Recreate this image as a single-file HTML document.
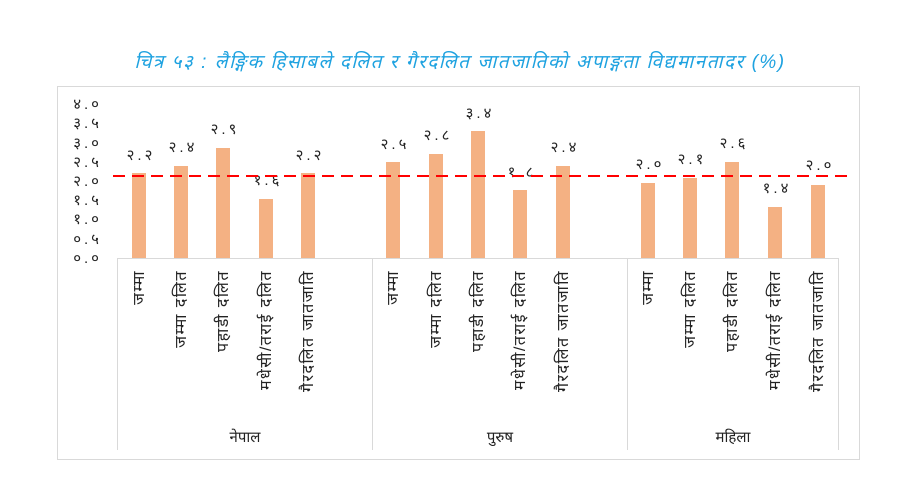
<!DOCTYPE html>
<html><head><meta charset="utf-8"><style>
body{margin:0;background:#fff;width:910px;height:488px;overflow:hidden;font-family:"Liberation Sans","DejaVu Sans",sans-serif}
</style></head><body>
<svg width="910" height="488" xmlns="http://www.w3.org/2000/svg" font-family="'Liberation Sans','DejaVu Sans',sans-serif">
<text x="460" y="68" text-anchor="middle" font-size="19" font-style="italic" letter-spacing="1.5" fill="#1ea2e0">चित्र ५३ : लैङ्गिक हिसाबले दलित र गैरदलित जातजातिको अपाङ्गता विद्यमानतादर (%)</text>
<rect x="57.5" y="86.5" width="802" height="373" fill="#fff" stroke="#d9d9d9"/>
<g font-size="15" fill="#222" text-anchor="end" letter-spacing="3">
<text x="102" y="109">४.०</text><text x="102" y="128">३.५</text><text x="102" y="148">३.०</text>
<text x="102" y="167">२.५</text><text x="102" y="186">२.०</text><text x="102" y="205">१.५</text>
<text x="102" y="224">१.०</text><text x="102" y="244">०.५</text><text x="102" y="263">०.०</text>
</g>
<g fill="#f4b183">
<rect x="132" y="173" width="14" height="85"/><rect x="174" y="166" width="14" height="92"/><rect x="216" y="148" width="14" height="110"/><rect x="259" y="199" width="14" height="59"/><rect x="301" y="173" width="14" height="85"/>
<rect x="386" y="162" width="14" height="96"/><rect x="429" y="154" width="14" height="104"/><rect x="471" y="131" width="14" height="127"/><rect x="513" y="190" width="14" height="68"/><rect x="556" y="166" width="14" height="92"/>
<rect x="641" y="183" width="14" height="75"/><rect x="683" y="178" width="14" height="80"/><rect x="725" y="162" width="14" height="96"/><rect x="768" y="207" width="14" height="51"/><rect x="811" y="185" width="14" height="73"/>
</g>
<g font-size="15" fill="#222" text-anchor="middle" letter-spacing="3">
<text x="141" y="160">२.२</text><text x="183" y="152">२.४</text><text x="225" y="134">२.९</text><text x="268" y="185">१.६</text><text x="310" y="160">२.२</text>
<text x="395" y="149">२.५</text><text x="438" y="140">२.८</text><text x="480" y="118">३.४</text><text x="522" y="177">१.८</text><text x="565" y="152">२.४</text>
<text x="650" y="169">२.०</text><text x="692" y="164">२.१</text><text x="734" y="148">२.६</text><text x="777" y="193">१.४</text><text x="820" y="170">२.०</text>
</g>
<line x1="113" y1="176" x2="852" y2="176" stroke="#ff0000" stroke-width="2" stroke-dasharray="12,7"/>
<g stroke="#d9d9d9" fill="none">
<line x1="117.5" y1="258" x2="117.5" y2="450"/><line x1="372.5" y1="258" x2="372.5" y2="450"/><line x1="627.5" y1="258" x2="627.5" y2="450"/><line x1="838.5" y1="258" x2="838.5" y2="450"/>
<line x1="117" y1="258.5" x2="839" y2="258.5"/>
</g>
<g font-size="16" fill="#222" text-anchor="end" letter-spacing="1.5">
<text transform="translate(144,270) rotate(-90)">जम्मा</text>
<text transform="translate(186,270) rotate(-90)">जम्मा दलित</text>
<text transform="translate(228,270) rotate(-90)">पहाडी दलित</text>
<text transform="translate(271,270) rotate(-90)">मधेसी/तराई दलित</text>
<text transform="translate(313,270) rotate(-90)">गैरदलित जातजाति</text>
<text transform="translate(398,270) rotate(-90)">जम्मा</text>
<text transform="translate(441,270) rotate(-90)">जम्मा दलित</text>
<text transform="translate(483,270) rotate(-90)">पहाडी दलित</text>
<text transform="translate(525,270) rotate(-90)">मधेसी/तराई दलित</text>
<text transform="translate(568,270) rotate(-90)">गैरदलित जातजाति</text>
<text transform="translate(653,270) rotate(-90)">जम्मा</text>
<text transform="translate(695,270) rotate(-90)">जम्मा दलित</text>
<text transform="translate(737,270) rotate(-90)">पहाडी दलित</text>
<text transform="translate(780,270) rotate(-90)">मधेसी/तराई दलित</text>
<text transform="translate(823,270) rotate(-90)">गैरदलित जातजाति</text>
</g>
<g font-size="15" fill="#222" text-anchor="middle">
<text x="245" y="442">नेपाल</text><text x="500" y="442">पुरुष</text><text x="733" y="442">महिला</text>
</g>
</svg>
</body></html>
